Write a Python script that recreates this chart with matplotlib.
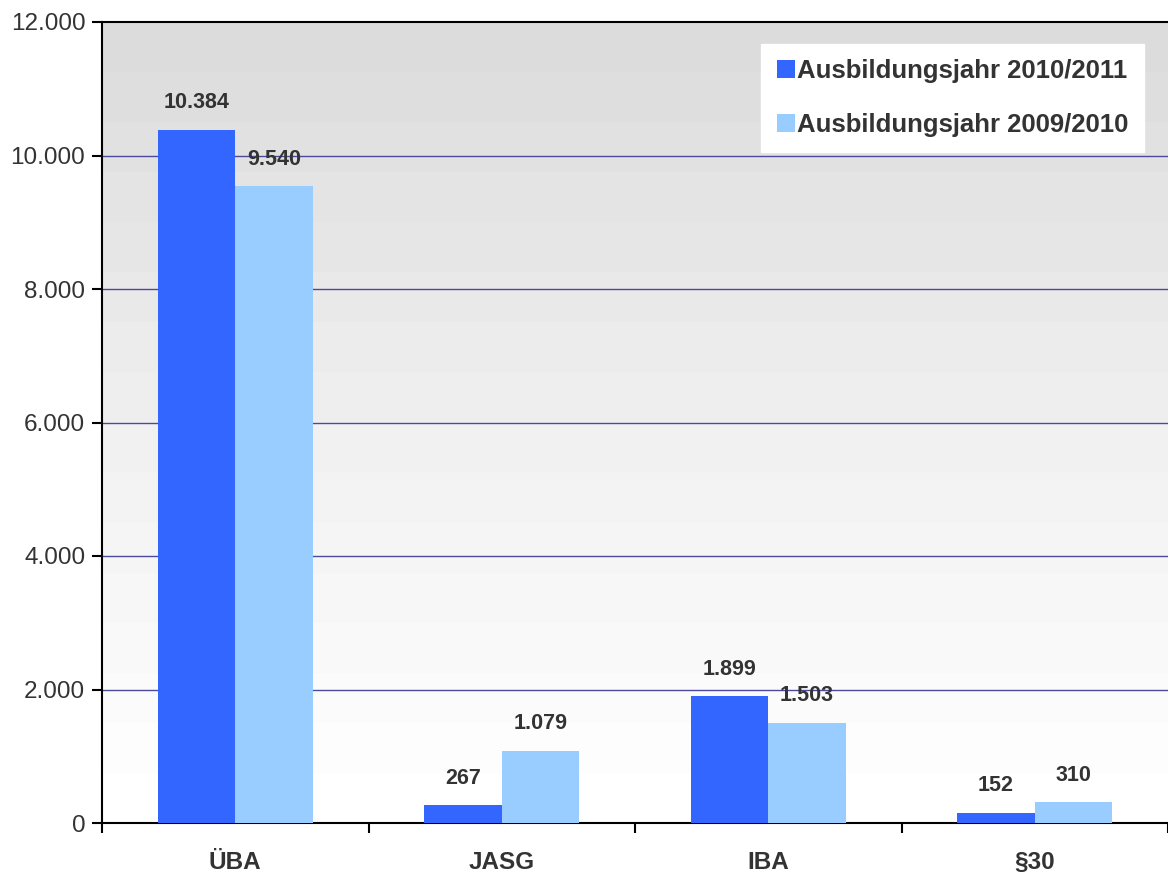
import numpy as np
import matplotlib.pyplot as plt
from matplotlib.colors import LinearSegmentedColormap

categories = ['ÜBA', 'JASG', 'IBA', '§30']
series_names = ['Ausbildungsjahr 2010/2011', 'Ausbildungsjahr 2009/2010']
values_2010_2011 = [10384, 267, 1899, 152]
values_2009_2010 = [9540, 1079, 1503, 310]
yticks = [0, 2000, 4000, 6000, 8000, 10000, 12000]

plt.rcParams['font.family'] = ['Liberation Sans', 'DejaVu Sans']
txt = '#333333'

def de(v):
    return f"{v:,}".replace(",", ".")

fig = plt.figure(figsize=(11.68, 8.77), dpi=100)
ax = fig.add_axes([102/1168, 54/877, 1066/1168, 801/877])

# stepped grey -> white background (darker at top)
t = np.linspace(1, 0, 16)
bands = (t ** 1.2).reshape(-1, 1)
cmap = LinearSegmentedColormap.from_list('bg', ['#ffffff', '#dcdcdc'])
ax.imshow(bands, cmap=cmap, aspect='auto', extent=[-0.5, 3.5, 0, 12000],
          interpolation='nearest', zorder=0, vmin=0, vmax=1)

x = np.arange(len(categories))
w = 0.29
b1 = ax.bar(x - w/2, values_2010_2011, w, color='#3366ff', label=series_names[0], zorder=3)
b2 = ax.bar(x + w/2, values_2009_2010, w, color='#99ccff', label=series_names[1], zorder=3)

for bars, vals in ((b1, values_2010_2011), (b2, values_2009_2010)):
    for r, v in zip(bars, vals):
        ax.annotate(de(v), (r.get_x() + r.get_width()/2, v), xytext=(0, 12),
                    textcoords='offset points', ha='center', va='bottom',
                    fontsize=15.5, fontweight='bold', color=txt)

ax.set_xlim(-0.5, 3.5)
ax.set_ylim(0, 12000)
ax.set_yticks(yticks)
ax.set_yticklabels([de(v) for v in yticks], fontsize=17.5, color=txt)
ax.set_xticks(x)
ax.set_xticklabels(categories, fontsize=17.5, fontweight='bold', color=txt)
ax.set_xticks([-0.5, 0.5, 1.5, 2.5, 3.5], minor=True)
ax.tick_params(axis='x', which='major', length=0, pad=20)
ax.tick_params(axis='x', which='minor', length=7, width=1.5, direction='out')
ax.tick_params(axis='y', length=7, width=1.5, direction='out', pad=5)

for g in yticks[1:-1]:
    ax.axhline(g, color='#4a4a9c', lw=1, zorder=1)

ax.spines['right'].set_visible(False)
for s in ('left', 'bottom', 'top'):
    ax.spines[s].set_linewidth(1.5)
    ax.spines[s].set_color('black')

leg = ax.legend(loc='upper right', bbox_to_anchor=(0.9775, 0.9725), borderaxespad=0,
                frameon=True, fancybox=False, framealpha=1, edgecolor='white',
                facecolor='white', prop={'size': 18.5, 'weight': 'bold'},
                handlelength=0.7, handleheight=0.7, handletextpad=0.1,
                labelspacing=1.15, borderpad=0.6)
for t in leg.get_texts():
    t.set_color(txt)

fig.savefig('out.png', dpi=100)
